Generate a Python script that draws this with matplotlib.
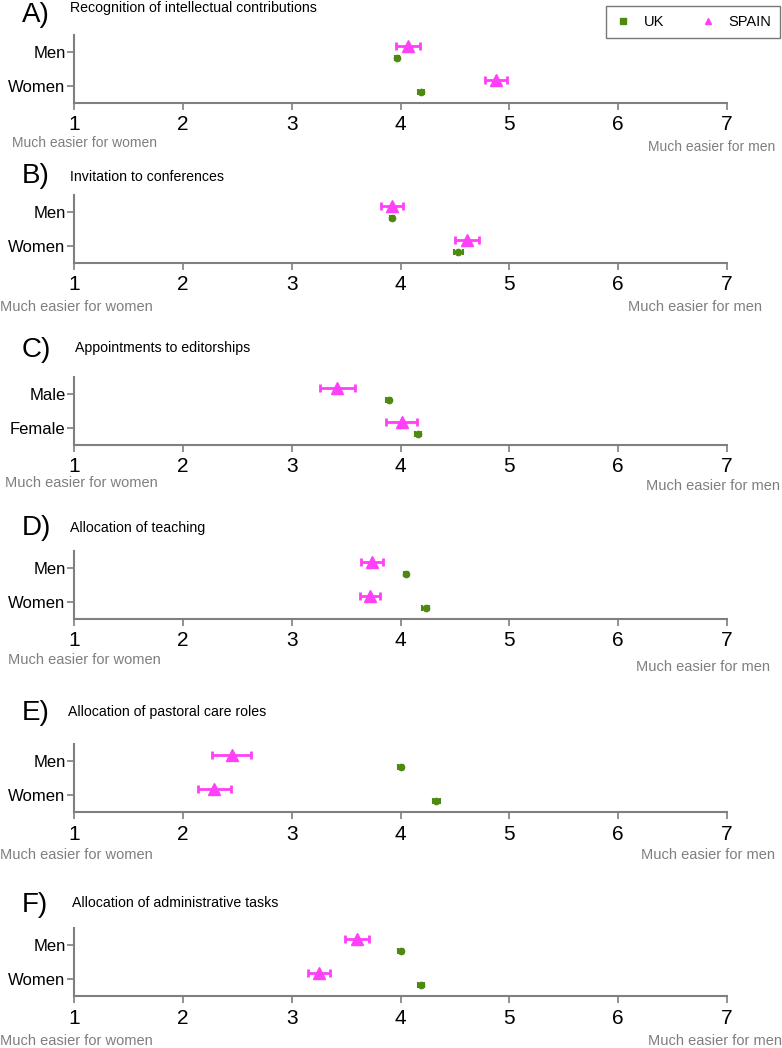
"""Perceived gender bias in academic tasks: UK vs Spain, mean +/- SE per panel."""

import matplotlib
matplotlib.use("Agg")
import matplotlib.pyplot as plt
from matplotlib.lines import Line2D

W, H = 782, 1048
FONT = "Liberation Sans"

letters = ["A)", "B)", "C)", "D)", "E)", "F)"]
titles = [
    "Recognition of intellectual contributions",
    "Invitation to conferences",
    "Appointments to editorships",
    "Allocation of teaching",
    "Allocation of pastoral care roles",
    "Allocation of administrative tasks",
]
groups = [
    ["Men", "Women"],
    ["Men", "Women"],
    ["Male", "Female"],
    ["Men", "Women"],
    ["Men", "Women"],
    ["Men", "Women"],
]
spain_mean = [[4.07, 4.88], [3.92, 4.61], [3.42, 4.01], [3.74, 3.72], [2.45, 2.29], [3.60, 3.25]]
spain_err = [[0.11, 0.10], [0.10, 0.11], [0.16, 0.14], [0.10, 0.09], [0.18, 0.15], [0.11, 0.10]]
uk_mean = [[3.97, 4.19], [3.92, 4.53], [3.89, 4.16], [4.05, 4.23], [4.00, 4.33], [4.00, 4.19]]
uk_err = [[0.02, 0.03], [0.02, 0.04], [0.02, 0.03], [0.02, 0.03], [0.02, 0.03], [0.02, 0.03]]
xticks = [1, 2, 3, 4, 5, 6, 7]

PINK = "#FF40F8"
GREEN = "#4E8A10"
GREY = "#7f7f7f"

# layout in pixels: axes top/bottom, letter/title y, label rows
ax_top = [35, 195, 377, 551, 744, 928]
ax_bot = [103, 263, 445, 619, 812, 996]
title_y = [8, 177, 348, 528, 712, 903]
title_x = [70, 70, 75, 70, 68, 72]
letter_y = [15, 176, 350, 528, 713, 905]
lab_left = [(12, 143), (0, 307), (5, 483), (8, 660), (0, 855), (0, 1041)]
lab_right = [(775, 147), (762, 307), (780, 486), (770, 667), (775, 855), (782, 1041)]


def fx(px):
    return px / W


def fy(py):
    return 1 - py / H


fig = plt.figure(figsize=(W / 100, H / 100), dpi=100)
plt.rcParams["font.family"] = FONT

for i in range(6):
    ax = fig.add_axes([fx(74), fy(ax_bot[i]), fx(727) - fx(74), (ax_bot[i] - ax_top[i]) / H])
    y = [0, 1]
    ax.errorbar(spain_mean[i], [v - 0.18 for v in y], xerr=spain_err[i], fmt="^",
                color=PINK, ms=8, elinewidth=2, capsize=3, capthick=2, zorder=3)
    ax.errorbar(uk_mean[i], [v + 0.18 for v in y], xerr=uk_err[i], fmt="o",
                color=GREEN, ms=4.5, elinewidth=1.5, capsize=2.5, capthick=1.5, zorder=3)
    ax.set_xlim(1, 7)
    ax.set_ylim(1.5, -0.5)
    for s in ("top", "right"):
        ax.spines[s].set_visible(False)
    for s in ("left", "bottom"):
        ax.spines[s].set_color(GREY)
        ax.spines[s].set_linewidth(1.5)
    ax.tick_params(axis="both", colors=GREY, width=1.2, length=5, labelcolor="black")
    ax.tick_params(axis="x", pad=4, labelsize=15)
    ax.tick_params(axis="y", pad=1, labelsize=12)
    ax.set_xticks(xticks)
    ax.set_xticklabels([str(t) for t in xticks])
    ax.set_yticks(y)
    ax.set_yticklabels(groups[i])

    fig.text(fx(22), fy(letter_y[i]), letters[i], fontsize=20,
             va="center", ha="left")
    fig.text(fx(title_x[i]), fy(title_y[i]), titles[i], fontsize=10.2,
             va="center", ha="left")
    fig.text(fx(lab_left[i][0]), fy(lab_left[i][1]), "Much easier for women",
             fontsize=10 if i == 0 else 10.5, color=GREY, va="center", ha="left")
    fig.text(fx(lab_right[i][0]), fy(lab_right[i][1]), "Much easier for men",
             fontsize=10 if i == 0 else 10.5, color=GREY, va="center", ha="right")

handles = [
    Line2D([], [], marker="s", color=GREEN, ls="none", ms=4),
    Line2D([], [], marker="^", color=PINK, ls="none", ms=5),
]
leg = fig.legend(handles, ["UK", "SPAIN"], loc="upper right",
                 bbox_to_anchor=(fx(780), fy(6)), ncol=2, frameon=True, fancybox=False,
                 prop={"size": 10.5}, borderpad=0.6, columnspacing=2.4,
                 handletextpad=0.8, handlelength=1.2, borderaxespad=0)
leg.get_frame().set_edgecolor("#555555")
leg.get_frame().set_linewidth(1.0)

fig.savefig("out.png", dpi=100)
